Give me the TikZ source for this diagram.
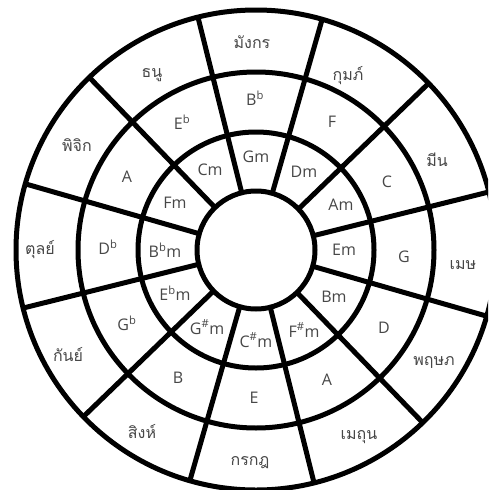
\documentclass[tikz,border=0pt]{standalone}
\usepackage{fontspec}
\setmainfont{Open Sans}
\newfontfamily\thaifont[Script=Thai]{Loma}
\tikzset{
  ringline/.style={line width=5pt, black},
  lat/.style={font=\fontsize{16}{18}\selectfont, text=black!72, inner sep=0pt},
  tha/.style={font=\thaifont\fontsize{16}{18}\selectfont, text=black!72, inner sep=0pt},
}
\newcommand{\fl}{\textsuperscript{b}}
\newcommand{\shp}{\textsuperscript{\#}}
\begin{document}
\begin{tikzpicture}[x=1pt,y=-1pt]
\useasboundingbox (0,0) rectangle (488,490);
\fill[white] (0,0) rectangle (488,490);
\clip (0,0) rectangle (488,490);
\coordinate (C) at (256,250);
\foreach \a in {14,44,...,344} {
  \draw[ringline, shift={(C)}] (\a:59pt) -- (\a:240pt);
}
\foreach \r in {59,118,178,240} {
  \draw[ringline] (C) circle[radius=\r pt];
}
% outer ring: zodiac
\node[tha] (z1) at (252,42) {มังกร};
\node[tha] (z2) at (348,76) {กุมภ์};
\node[tha] (z3) at (437,160) {มีน};
\node[tha] (z4) at (463,265) {เมษ};
\node[tha] (z5) at (434,362) {พฤษภ};
\node[tha] (z6) at (359,437) {เมถุน};
\node[tha] (z7) at (250,463) {กรกฎ};
\node[tha] (z8) at (142,432) {สิงห์};
\node[tha] (z9) at (68,355) {กันย์};
\node[tha] (z10) at (40,250) {ตุลย์};
\node[tha] (z11) at (77,145) {พิจิก};
\node[tha] (z12) at (152,75) {ธนู};
% middle ring: major
\node[lat] (M1) at (255,98) {B\fl};
\node[lat] (M2) at (332,122) {F};
\node[lat] (M3) at (387,182) {C};
\node[lat] (M4) at (404,257) {G};
\node[lat] (M5) at (384,328) {D};
\node[lat] (M6) at (327,380) {A};
\node[lat] (M7) at (254,398) {E};
\node[lat] (M8) at (178,378) {B};
\node[lat] (M9) at (127,323) {G\fl};
\node[lat] (M10) at (108,247) {D\fl};
\node[lat] (M11) at (127,177) {A};
\node[lat] (M12) at (182,122) {E\fl};
% inner ring: minor
\node[lat] (m1) at (256,157) {Gm};
\node[lat] (m2) at (304,172) {Dm};
\node[lat] (m3) at (341,205) {Am};
\node[lat] (m4) at (344,250) {Em};
\node[lat] (m5) at (334,297) {Bm};
\node[lat] (m6) at (304,330) {F\shp m};
\node[lat] (m7) at (256,340) {C\shp m};
\node[lat] (m8) at (207,327) {G\shp m};
\node[lat] (m9) at (175,293) {E\fl m};
\node[lat] (m10) at (165,250) {B\fl m};
\node[lat] (m11) at (175,203) {Fm};
\node[lat] (m12) at (210,170) {Cm};
\end{tikzpicture}
\end{document}
